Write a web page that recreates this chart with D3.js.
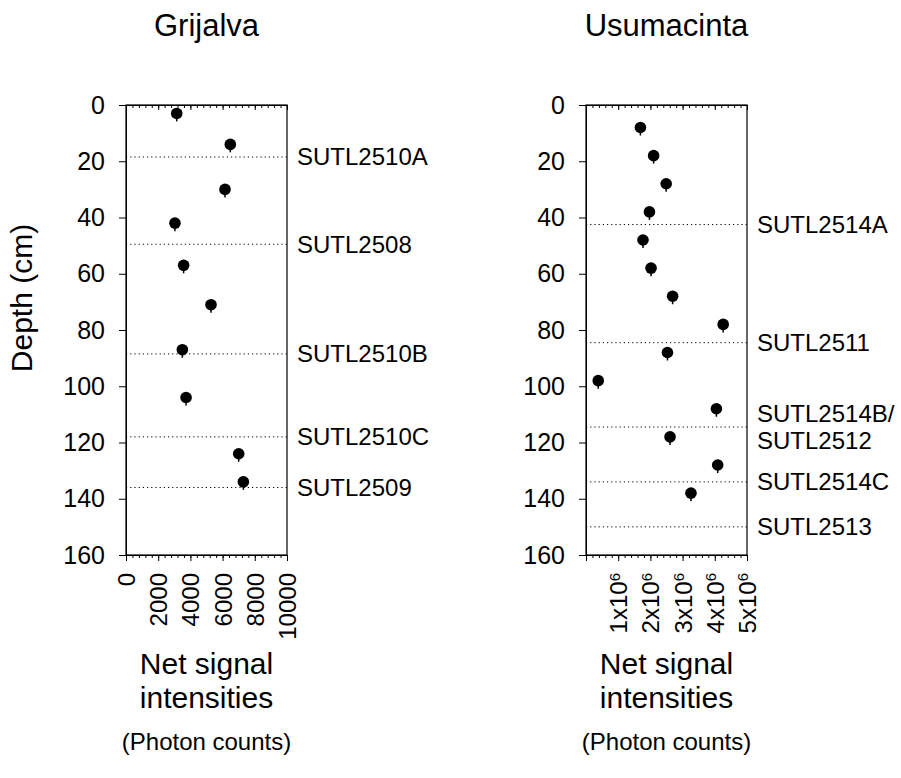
<!DOCTYPE html>
<html>
<head>
<meta charset="utf-8">
<script src="https://cdn.jsdelivr.net/npm/d3@7/dist/d3.min.js"></script>
<style>
  body { margin: 0; background: #fff; }
  svg { display: block; font-family: "Liberation Sans", Arial, sans-serif; }
  .domain { stroke: #000; }
  .tick line { stroke: #000; }
  .tick text { fill: #000; }
</style>
</head>
<body>
<svg width="901" height="778"></svg>
<script>
// Grijalva core
const grijalvaDepth = [3, 14, 30, 42, 57, 71, 87, 104, 124, 134];
const grijalvaSignal = [3150, 6480, 6150, 3040, 3580, 5280, 3500, 3730, 7000, 7290];
const grijalvaSamples = ["SUTL2510A", "SUTL2508", "SUTL2510B", "SUTL2510C", "SUTL2509"];
const grijalvaSampleDepth = [18.5, 49.5, 88.5, 118, 136];

// Usumacinta core
const usumacintaDepth = [8, 18, 28, 38, 48, 58, 68, 78, 88, 98, 108, 118, 128, 138];
const usumacintaSignal = [1.69e6, 2.10e6, 2.49e6, 1.97e6, 1.77e6, 2.02e6, 2.69e6, 4.26e6,
                          2.53e6, 0.38e6, 4.05e6, 2.61e6, 4.09e6, 3.26e6];
const usumacintaSamples = ["SUTL2514A", "SUTL2511", "SUTL2514B/\nSUTL2512", "SUTL2514C", "SUTL2513"];
const usumacintaSampleDepth = [42.5, 84.5, 114.5, 134, 150];

const depthTicks = [0, 20, 40, 60, 80, 100, 120, 140, 160];
const grijalvaTicks = [0, 2000, 4000, 6000, 8000, 10000];
const usumacintaTicks = [1e6, 2e6, 3e6, 4e6, 5e6];

const svg = d3.select("svg");
const plotTop = 105, plotBottom = 555, plotW = 161;

const y = d3.scaleLinear().domain([0, 160]).range([plotTop, plotBottom]);

function drawPanel(opts) {
  const x = d3.scaleLinear().domain([0, opts.max]).range([opts.left, opts.left + plotW]);
  const g = svg.append("g");
  const minor = d3.range(0, opts.max + opts.minorStep / 2, opts.minorStep);

  // title
  g.append("text")
    .attr("x", opts.left + plotW / 2)
    .attr("y", 36)
    .attr("text-anchor", "middle")
    .style("font-size", "31px")
    .text(opts.title);

  // sample boundaries (dotted)
  g.selectAll(".sample-line")
    .data(opts.sampleDepth)
    .enter()
    .append("line")
      .attr("x1", opts.left)
      .attr("x2", opts.left + plotW)
      .attr("y1", d => y(d))
      .attr("y2", d => y(d))
      .attr("stroke", "#000")
      .attr("stroke-width", 1)
      .attr("stroke-dasharray", "1.2,3");

  // sample labels
  g.selectAll(".sample-label")
    .data(opts.samples.map((s, i) => ({name: s, depth: opts.sampleDepth[i]})))
    .enter()
    .append("text")
      .attr("x", opts.left + plotW + 10)
      .attr("y", d => y(d.depth))
      .style("font-size", "24px")
      .each(function(d) {
        const lines = d.name.split("\n");
        const t = d3.select(this);
        lines.forEach((l, i) => {
          t.append("tspan")
            .attr("x", opts.left + plotW + 10)
            .attr("dy", i === 0 ? (0.35 - (lines.length - 1) * 0.56) + "em" : "1.12em")
            .text(l);
        });
      });

  // frame
  g.append("rect")
    .attr("x", opts.left)
    .attr("y", plotTop)
    .attr("width", plotW)
    .attr("height", plotBottom - plotTop)
    .attr("fill", "none")
    .attr("stroke", "#000")
    .attr("stroke-width", 1.2);

  // left axis
  g.append("g")
    .attr("transform", `translate(${opts.left},0)`)
    .call(d3.axisLeft(y).tickValues(depthTicks).tickSize(7).tickPadding(14))
    .call(a => a.selectAll("text").style("font-size", "25px"));

  // top axis, inward ticks
  g.append("g")
    .attr("transform", `translate(0,${plotTop})`)
    .call(d3.axisTop(x).tickValues(minor).tickSize(-3).tickFormat(""));
  g.append("g")
    .attr("transform", `translate(0,${plotTop})`)
    .call(d3.axisTop(x).tickValues(opts.ticks).tickSize(-5).tickFormat(""));

  // bottom axis, outward ticks
  g.append("g")
    .attr("transform", `translate(0,${plotBottom})`)
    .call(d3.axisBottom(x).tickValues(minor).tickSize(3).tickFormat(""));
  const bx = g.append("g")
    .attr("transform", `translate(0,${plotBottom})`)
    .call(d3.axisBottom(x).tickValues(opts.ticks).tickSize(6).tickFormat(""));

  bx.selectAll(".tick")
    .append("text")
      .attr("transform", "rotate(-90)")
      .attr("x", -18)
      .attr("y", 0)
      .attr("dy", "0.35em")
      .attr("text-anchor", "end")
      .style("font-size", "24px")
      .each(function(d) {
        const t = d3.select(this);
        if (opts.sci) {
          t.append("tspan").text((d / 1e6) + "x10");
          t.append("tspan").attr("dy", "-0.5em").style("font-size", "15px").text("6");
        } else {
          t.text(d);
        }
      });

  // points
  const pts = opts.depth.map((d, i) => ({depth: d, value: opts.signal[i]}));
  g.selectAll(".tail")
    .data(pts)
    .enter()
    .append("line")
      .attr("x1", d => x(d.value))
      .attr("x2", d => x(d.value))
      .attr("y1", d => y(d.depth))
      .attr("y2", d => y(d.depth) + 8)
      .attr("stroke", "#000")
      .attr("stroke-width", 1.5);
  g.selectAll(".dot")
    .data(pts)
    .enter()
    .append("circle")
      .attr("cx", d => x(d.value))
      .attr("cy", d => y(d.depth))
      .attr("r", 5.8)
      .attr("fill", "#000");

  // x axis title
  const cx = opts.left + plotW / 2;
  g.append("text").attr("x", cx).attr("y", 674).attr("text-anchor", "middle")
    .style("font-size", "30px").text("Net signal");
  g.append("text").attr("x", cx).attr("y", 708).attr("text-anchor", "middle")
    .style("font-size", "30px").text("intensities");
  g.append("text").attr("x", cx).attr("y", 750).attr("text-anchor", "middle")
    .style("font-size", "24px").text("(Photon counts)");
}

drawPanel({
  title: "Grijalva", left: 126, max: 10000, minorStep: 400,
  ticks: grijalvaTicks, depth: grijalvaDepth, signal: grijalvaSignal,
  samples: grijalvaSamples, sampleDepth: grijalvaSampleDepth, sci: false
});
drawPanel({
  title: "Usumacinta", left: 586, max: 5e6, minorStep: 2e5,
  ticks: usumacintaTicks, depth: usumacintaDepth, signal: usumacintaSignal,
  samples: usumacintaSamples, sampleDepth: usumacintaSampleDepth, sci: true
});

// y axis title
svg.append("text")
  .attr("transform", "translate(32,298) rotate(-90)")
  .attr("text-anchor", "middle")
  .style("font-size", "30px")
  .text("Depth (cm)");
</script>
</body>
</html>
